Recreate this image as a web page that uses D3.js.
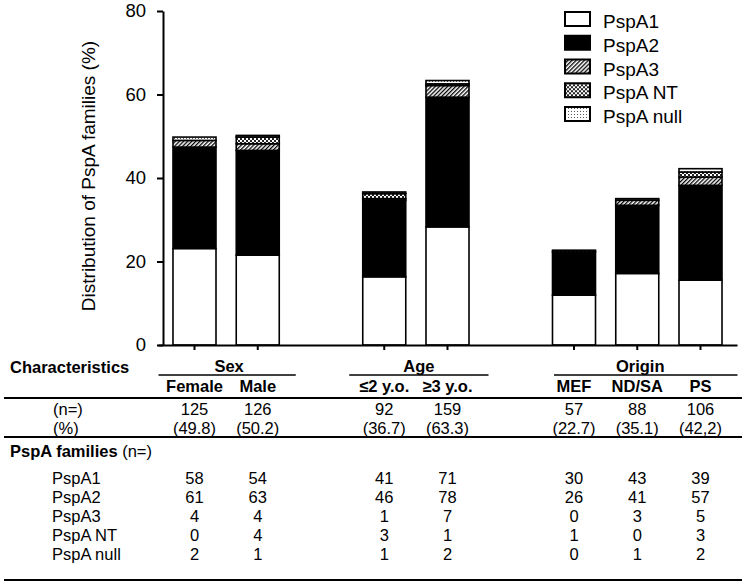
<!DOCTYPE html>
<html><head><meta charset="utf-8">
<script src="https://cdn.jsdelivr.net/npm/d3@7"></script>
<style>
body{margin:0;background:#fff}
svg{display:block;font-family:"Liberation Sans",Arial,Helvetica,sans-serif}
</style>
</head><body>
<svg id="c" width="746" height="584"></svg>
<script>
// ---------- data ----------
const groups = ["Sex", "Age", "Origin"];
const categories = ["Female", "Male", "≤2 y.o.", "≥3 y.o.", "MEF", "ND/SA", "PS"];
const categoryGroup = ["Sex", "Sex", "Age", "Age", "Origin", "Origin", "Origin"];
const families = ["PspA1", "PspA2", "PspA3", "PspA NT", "PspA null"];
const nTotal = [125, 126, 92, 159, 57, 88, 106];
const nPercentLabels = ["(49.8)", "(50.2)", "(36.7)", "(63.3)", "(22.7)", "(35.1)", "(42,2)"];
const pspA1 = [58, 54, 41, 71, 30, 43, 39];
const pspA2 = [61, 63, 46, 78, 26, 41, 57];
const pspA3 = [4, 4, 1, 7, 0, 3, 5];
const pspANT = [0, 4, 3, 1, 1, 0, 3];
const pspANull = [2, 1, 1, 2, 0, 1, 2];
const yTicks = [0, 20, 40, 60, 80];
const yTitle = "Distribution of PspA families (%)";

// ---------- setup ----------
const familyCounts = [pspA1, pspA2, pspA3, pspANT, pspANull];
const grandTotal = d3.sum(nTotal.filter((d, i) => categoryGroup[i] === "Sex"));
const rows = categories.map((c, i) => {
  const r = {cat: c};
  families.forEach((f, k) => r[f] = familyCounts[k][i] / grandTotal * 100);
  return r;
});
const stacked = d3.stack().keys(families)(rows);

// slots with gaps between groups
const slots = [];
groups.forEach((g, gi) => {
  if (gi > 0) slots.push("_gap" + gi);
  categories.forEach((c, i) => { if (categoryGroup[i] === g) slots.push(c); });
});

const svg = d3.select("#c");
const font = "'Liberation Sans',Arial,sans-serif";

const x = d3.scaleBand().domain(slots).range([158, 737]).paddingInner(0.32).paddingOuter(0.237);
const y = d3.scaleLinear().domain([0, 80]).range([345, 11]);
const cx = c => x(c) + x.bandwidth() / 2;

// patterns
const defs = svg.append("defs");
const hatch = defs.append("pattern").attr("id", "p3").attr("patternUnits", "userSpaceOnUse")
  .attr("width", 2.9).attr("height", 2.9).attr("patternTransform", "rotate(45)");
hatch.append("rect").attr("width", 2.9).attr("height", 2.9).attr("fill", "#fff");
hatch.append("rect").attr("x", 0).attr("y", 0).attr("width", 1.3).attr("height", 2.9).attr("fill", "#000");

const nt = defs.append("pattern").attr("id", "pnt").attr("patternUnits", "userSpaceOnUse")
  .attr("width", 4).attr("height", 4);
nt.append("rect").attr("width", 4).attr("height", 4).attr("fill", "#222");
nt.append("rect").attr("x", 0).attr("y", 0).attr("width", 2).attr("height", 2).attr("fill", "#fff");
nt.append("rect").attr("x", 2).attr("y", 2).attr("width", 2).attr("height", 2).attr("fill", "#fff");

const nl = defs.append("pattern").attr("id", "pnull").attr("patternUnits", "userSpaceOnUse")
  .attr("width", 3).attr("height", 3);
nl.append("rect").attr("width", 3).attr("height", 3).attr("fill", "#fff");
nl.append("rect").attr("x", 0).attr("y", 0).attr("width", 1).attr("height", 1).attr("fill", "#555");

const fills = {"PspA1": "#fff", "PspA2": "#000", "PspA3": "url(#p3)", "PspA NT": "url(#pnt)", "PspA null": "url(#pnull)"};

// bars
const layer = svg.append("g").selectAll("g").data(stacked).join("g")
  .attr("fill", d => fills[d.key]);
layer.selectAll("rect").data(d => d.filter(e => e[1] - e[0] > 0)).join("rect")
  .attr("x", d => x(d.data.cat))
  .attr("width", x.bandwidth())
  .attr("y", d => y(d[1]))
  .attr("height", d => y(d[0]) - y(d[1]))
  .attr("stroke", "#000").attr("stroke-width", 1.6);

// y axis
const yAxis = svg.append("g").attr("transform", "translate(163,0)")
  .call(d3.axisLeft(y).tickValues(yTicks).tickSize(6).tickSizeOuter(0).tickPadding(11));
yAxis.select(".domain").attr("stroke-width", 2);
yAxis.selectAll(".tick line").attr("stroke-width", 2);
yAxis.selectAll(".tick text").attr("font-size", 18.5).attr("font-family", font).attr("fill", "#000");

// x axis
const xAxis = svg.append("g").attr("transform", "translate(0,345)")
  .call(d3.axisBottom(x).tickValues(categories).tickSize(5).tickSizeOuter(0).tickFormat(""));
xAxis.select(".domain").attr("stroke-width", 2);
xAxis.selectAll(".tick line").attr("stroke-width", 2);

// y title
svg.append("text").attr("transform", "translate(95,176) rotate(-90)")
  .attr("text-anchor", "middle").attr("font-size", 19).attr("font-family", font)
  .text(yTitle);

// legend
const leg = svg.append("g").selectAll("g").data(families).join("g")
  .attr("transform", (d, i) => `translate(565,${19 + i * 23.75})`);
leg.append("rect").attr("x", 0).attr("y", -7).attr("width", 25).attr("height", 14)
  .attr("fill", d => fills[d]).attr("stroke", "#000").attr("stroke-width", 2);
leg.append("text").attr("x", 38).attr("y", 9).attr("font-size", 19).attr("font-family", font)
  .text(d => d);

// ---------- table ----------
const tb = svg.append("g").attr("font-family", font).attr("font-size", 16.5);
tb.append("text").attr("x", 10).attr("y", 373).attr("font-weight", "bold").text("Characteristics");

const linePad = {Sex: [36, 38], Age: [35, 41], Origin: [20, 37]};
groups.forEach(g => {
  const cs = categories.filter((c, i) => categoryGroup[i] === g);
  const first = cx(cs[0]), last = cx(cs[cs.length - 1]);
  tb.append("line").attr("x1", first - linePad[g][0]).attr("x2", last + linePad[g][1])
    .attr("y1", 375).attr("y2", 375).attr("stroke", "#000").attr("stroke-width", 1.6);
  tb.append("text").attr("x", d3.mean(cs, cx) + 3).attr("y", 372).attr("text-anchor", "middle")
    .attr("font-weight", "bold").text(g);
});
categories.forEach(c => {
  tb.append("text").attr("x", cx(c)).attr("y", 392).attr("text-anchor", "middle")
    .attr("font-weight", "bold").text(c);
});

const hl = yy => tb.append("line").attr("x1", 4).attr("x2", 742).attr("y1", yy).attr("y2", yy)
  .attr("stroke", "#000").attr("stroke-width", 2.2);
hl(398); hl(437); hl(580);

tb.append("text").attr("x", 53).attr("y", 415).text("(n=)");
tb.append("text").attr("x", 53).attr("y", 434).text("(%)");
categories.forEach((c, i) => {
  tb.append("text").attr("x", cx(c)).attr("y", 415).attr("text-anchor", "middle").text(nTotal[i]);
  tb.append("text").attr("x", cx(c)).attr("y", 434).attr("text-anchor", "middle").text(nPercentLabels[i]);
});

const ph = tb.append("text").attr("x", 10).attr("y", 457);
ph.append("tspan").attr("font-weight", "bold").text("PspA families");
ph.append("tspan").text(" (n=)");

families.forEach((f, k) => {
  const yy = 484 + k * 19;
  tb.append("text").attr("x", 52).attr("y", yy).text(f);
  categories.forEach((c, i) => {
    tb.append("text").attr("x", cx(c)).attr("y", yy).attr("text-anchor", "middle").text(familyCounts[k][i]);
  });
});
</script>
</body></html>
